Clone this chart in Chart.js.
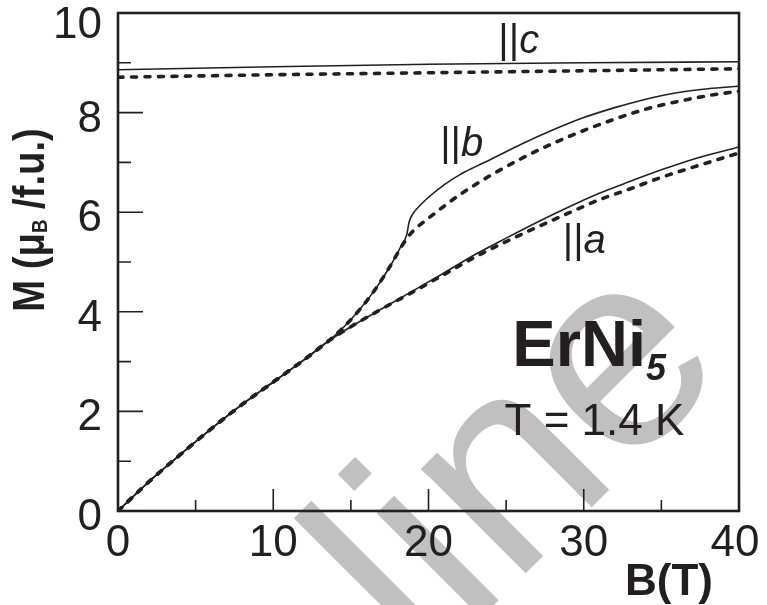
<!DOCTYPE html>
<html>
<head>
<meta charset="utf-8">
<script src="https://cdn.jsdelivr.net/npm/chart.js@4.4.0/dist/chart.umd.min.js"></script>
<style>
  html, body { margin: 0; padding: 0; background: #fff; }
  canvas { display: block; }
</style>
</head>
<body>
<canvas id="chart" width="767" height="605"></canvas>
<script>
// magnetisation M (muB/f.u.) vs field B (T), solid = measured, dashed = calc
const fieldC = [0, 10, 20, 30, 40];
const cSolid = [8.86, 8.92, 8.97, 9.00, 9.02];
const cDashed = [8.71, 8.76, 8.80, 8.84, 8.88];

const fieldA = [0, 2, 4, 6, 8, 10, 12, 13.5, 15, 17, 19, 21, 23, 25, 27, 29, 31, 33, 35, 37, 40];
const aSolid = [0, 0.59, 1.13, 1.65, 2.14, 2.59, 3.04, 3.40, 3.70, 4.06, 4.42, 4.78, 5.15, 5.48, 5.80, 6.10, 6.38, 6.62, 6.85, 7.06, 7.31];
const aDashed = [0, 0.59, 1.13, 1.65, 2.14, 2.59, 3.04, 3.40, 3.70, 4.06, 4.40, 4.75, 5.10, 5.41, 5.70, 5.98, 6.25, 6.47, 6.70, 6.90, 7.19];

const fieldBSolid = [0, 2, 4, 6, 8, 10, 12, 13.5, 14.5, 15.5, 16.5, 17.5, 18.2, 18.6, 18.75, 19, 19.5, 20, 21, 22, 23, 24, 26, 28, 30, 32, 34, 36, 38, 40];
const bSolid = [0, 0.59, 1.13, 1.65, 2.14, 2.59, 3.04, 3.40, 3.68, 4.02, 4.42, 4.90, 5.30, 5.55, 5.80, 5.97, 6.15, 6.30, 6.55, 6.75, 6.91, 7.06, 7.37, 7.65, 7.90, 8.10, 8.27, 8.40, 8.48, 8.53];
const fieldBDashed = [0, 2, 4, 6, 8, 10, 12, 13.5, 14.5, 15.5, 16.5, 17.5, 18.2, 18.6, 19, 20, 21, 22, 23, 24, 26, 28, 30, 32, 34, 36, 38, 40];
const bDashed = [0, 0.59, 1.13, 1.65, 2.14, 2.59, 3.04, 3.40, 3.68, 4.02, 4.42, 4.90, 5.28, 5.47, 5.62, 5.88, 6.12, 6.35, 6.55, 6.74, 7.08, 7.38, 7.64, 7.87, 8.07, 8.22, 8.34, 8.43];

const xTicks = [0, 10, 20, 30, 40];
const xMinor = [5, 15, 25, 35];
const yTicks = [0, 2, 4, 6, 8, 10];
const yMinor = [1, 3, 5, 7, 9];

const INK = '#231f20';
const FONT = '"Liberation Sans", Arial, sans-serif';

function pts(xs, ys) {
  return xs.map((b, i) => ({ x: b, y: ys[i] }));
}

function solid(xs, ys) {
  return {
    data: pts(xs, ys),
    borderColor: INK,
    borderWidth: 1.6,
    pointRadius: 0,
    cubicInterpolationMode: 'monotone'
  };
}

function dashed(xs, ys) {
  return {
    data: pts(xs, ys),
    borderColor: INK,
    borderWidth: 3.6,
    borderDash: [5, 8.5],
    borderCapStyle: 'round',
    pointRadius: 0,
    cubicInterpolationMode: 'monotone'
  };
}

// draws one label made of pieces [text, font, dy]
function drawPieces(ctx, pieces, x, y) {
  let cx = x;
  pieces.forEach(p => {
    ctx.font = p[1];
    ctx.fillText(p[0], cx, y + (p[2] || 0));
    cx += ctx.measureText(p[0]).width;
  });
}

function piecesWidth(ctx, pieces) {
  let w = 0;
  pieces.forEach(p => { ctx.font = p[1]; w += ctx.measureText(p[0]).width; });
  return w;
}

const paper = {
  id: 'paper',
  beforeDraw(chart) {
    const ctx = chart.ctx;
    ctx.save();
    ctx.fillStyle = '#fff';
    ctx.fillRect(0, 0, chart.width, chart.height);
    // grey watermark
    ctx.translate(424, 675);
    ctx.rotate(-Math.PI / 4);
    ctx.fillStyle = '#c0c0c0';
    ctx.font = '280px ' + FONT;
    ctx.textBaseline = 'alphabetic';
    ctx.fillText('line', 0, 0);
    ctx.restore();
  },
  afterDraw(chart) {
    const ctx = chart.ctx;
    const a = chart.chartArea;
    const x = chart.scales.x;
    const y = chart.scales.y;
    ctx.save();
    ctx.strokeStyle = INK;
    ctx.fillStyle = INK;

    ctx.lineWidth = 2.6;
    ctx.strokeRect(a.left, a.top, a.right - a.left, a.bottom - a.top);

    // inward ticks
    ctx.lineWidth = 1.6;
    ctx.beginPath();
    yTicks.forEach(v => {
      const py = y.getPixelForValue(v);
      ctx.moveTo(a.left, py); ctx.lineTo(a.left + 25, py);
    });
    yMinor.forEach(v => {
      const py = y.getPixelForValue(v);
      ctx.moveTo(a.left, py); ctx.lineTo(a.left + 13, py);
    });
    xTicks.forEach(v => {
      const px = x.getPixelForValue(v);
      ctx.moveTo(px, a.bottom); ctx.lineTo(px, a.bottom - 22);
    });
    xMinor.forEach(v => {
      const px = x.getPixelForValue(v);
      ctx.moveTo(px, a.bottom); ctx.lineTo(px, a.bottom - 11);
    });
    ctx.stroke();

    // tick labels
    ctx.font = '44px ' + FONT;
    ctx.textBaseline = 'alphabetic';
    ctx.textAlign = 'right';
    yTicks.forEach(v => {
      const py = y.getPixelForValue(v);
      ctx.fillText(String(v), a.left - 16, Math.max(py + 19, 38));
    });
    ctx.textAlign = 'center';
    xTicks.forEach((v, i) => {
      const px = x.getPixelForValue(v);
      ctx.fillText(String(v), i === xTicks.length - 1 ? px - 4 : px, a.bottom + 45);
    });

    // axis titles
    ctx.textAlign = 'left';
    ctx.font = 'bold 44px ' + FONT;
    ctx.fillText('B(T)', 625, 595);

    const yTitle = [
      ['M (\u03bc', 'bold 45px ' + FONT],
      ['B', 'bold 22px ' + FONT, 3],
      [' /f.u.)', 'bold 45px ' + FONT]
    ];
    ctx.save();
    ctx.translate(44, 220);
    ctx.rotate(-Math.PI / 2);
    ctx.scale(0.85, 1);
    drawPieces(ctx, yTitle, -piecesWidth(ctx, yTitle) / 2, 0);
    ctx.restore();

    // curve labels
    const bars = '40px ' + FONT;
    const ital = 'italic 40px ' + FONT;
    drawPieces(ctx, [['||', bars], ['c', ital]], x.getPixelForValue(24.5), y.getPixelForValue(9.2));
    drawPieces(ctx, [['||', bars], ['b', ital]], x.getPixelForValue(20.75), y.getPixelForValue(7.13));
    drawPieces(ctx, [['||', bars], ['a', ital]], x.getPixelForValue(28.65), y.getPixelForValue(5.18));

    drawPieces(ctx, [['ErNi', 'bold 65px ' + FONT], ['5', 'bold italic 36px ' + FONT, 14]],
      x.getPixelForValue(25.4), y.getPixelForValue(2.91));
    ctx.font = '44px ' + FONT;
    ctx.fillText('T = 1.4 K', x.getPixelForValue(24.9), y.getPixelForValue(1.53));

    ctx.restore();
  }
};

new Chart(document.getElementById('chart'), {
  type: 'line',
  data: {
    datasets: [
      solid(fieldC, cSolid),
      dashed(fieldC, cDashed),
      solid(fieldBSolid, bSolid),
      dashed(fieldBDashed, bDashed),
      solid(fieldA, aSolid),
      dashed(fieldA, aDashed)
    ]
  },
  options: {
    responsive: false,
    animation: false,
    events: [],
    layout: { padding: { left: 118, top: 13, right: 28, bottom: 94 } },
    scales: {
      x: { type: 'linear', min: 0, max: 40, display: false },
      y: { type: 'linear', min: 0, max: 10, display: false }
    },
    plugins: {
      legend: { display: false },
      tooltip: { enabled: false }
    }
  },
  plugins: [paper]
});
</script>
</body>
</html>
